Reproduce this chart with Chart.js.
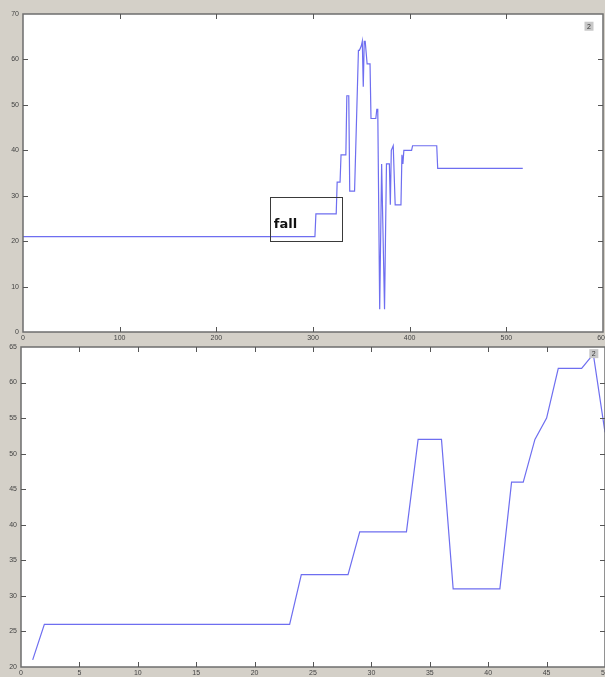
<!DOCTYPE html>
<html>
<head>
<meta charset="utf-8">
<script src="https://cdn.jsdelivr.net/npm/chart.js@4.4.1/dist/chart.umd.min.js"></script>
<style>
  html, body { margin: 0; padding: 0; background: #d4d0c8; }
  body { width: 605px; height: 677px; position: relative; overflow: hidden; }
  #top-wrap { position: absolute; left: 0; top: 0; width: 605px; height: 345px; }
  #bottom-wrap { position: absolute; left: 0; top: 337px; width: 605px; height: 340px; }
</style>
</head>
<body>
<div id="top-wrap"><canvas id="top-chart"></canvas></div>
<div id="bottom-wrap"><canvas id="bottom-chart"></canvas></div>
<script>
// top panel: whole recording (sample index, value)
const topX = [0, 302, 303, 324, 325, 328, 329, 334, 335, 337, 338, 343, 347, 348, 350, 351, 352, 353, 354, 356, 359, 360, 365, 366, 367,
  369, 371, 374, 376, 379, 380, 381, 383, 385, 391, 392, 393, 394, 402, 403, 428, 429, 517];
const topY = [21, 21, 26, 26, 33, 33, 39, 39, 52, 52, 31, 31, 62, 62, 63, 64, 54, 64, 64, 59, 59, 47, 47, 49, 49,
  5, 37, 5, 37, 37, 28, 40, 41, 28, 28, 39, 37, 40, 40, 41, 41, 36, 36];

// bottom panel: first 50 distinct steps
const bottomX = [1, 2, 3, 4, 5, 6, 7, 8, 9, 10, 11, 12, 13, 14, 15, 16, 17, 18, 19, 20, 21, 22, 23, 24, 25,
  26, 27, 28, 29, 30, 31, 32, 33, 34, 35, 36, 37, 38, 39, 40, 41, 42, 43, 44, 45, 46, 47, 48, 49, 50];
const bottomY = [21, 26, 26, 26, 26, 26, 26, 26, 26, 26, 26, 26, 26, 26, 26, 26, 26, 26, 26, 26, 26, 26, 26, 33, 33,
  33, 33, 33, 39, 39, 39, 39, 39, 52, 52, 52, 31, 31, 31, 31, 31, 46, 46, 52, 55, 62, 62, 62, 64, 53];

const topXRange = [0, 600, 100];
const topYRange = [0, 70, 10];
const bottomXRange = [0, 50, 5];
const bottomYRange = [20, 65, 5];

// annotations (data coordinates)
const fallBox = [256, 29.7, 331, 20];
const fallLabel = { text: 'fall', x: 259.5, y: 22.9 };
const topTip = { text: '2', x: 585, y: 67.2 };
const bottomTip = { text: '2', x: 49, y: 64 };

const lineColor = 'rgb(110,110,240)';
const tickFont = { family: 'Liberation Sans', size: 7 };

const framePlugin = {
  id: 'frame',
  beforeDraw(chart) {
    const a = chart.chartArea, ctx = chart.ctx;
    ctx.save();
    ctx.fillStyle = '#ffffff';
    ctx.fillRect(a.left, a.top, a.right - a.left, a.bottom - a.top);
    ctx.restore();
  },
  afterDraw(chart, args, opts) {
    const a = chart.chartArea, ctx = chart.ctx;
    const xs = chart.scales.x, ys = chart.scales.y;
    ctx.save();
    ctx.strokeStyle = '#6e6e6e';
    ctx.lineWidth = 1.5;
    ctx.strokeRect(a.left, a.top, a.right - a.left, a.bottom - a.top);
    ctx.lineWidth = 1;
    ctx.strokeStyle = '#555';
    ctx.beginPath();
    xs.ticks.forEach(t => {
      const px = Math.round(xs.getPixelForValue(t.value)) + 0.5;
      if (px <= a.left + 1 || px >= a.right - 1) return;
      ctx.moveTo(px, a.bottom); ctx.lineTo(px, a.bottom - 5);
      ctx.moveTo(px, a.top); ctx.lineTo(px, a.top + 5);
    });
    ys.ticks.forEach(t => {
      const py = Math.round(ys.getPixelForValue(t.value)) + 0.5;
      if (py <= a.top + 1 || py >= a.bottom - 1) return;
      ctx.moveTo(a.left, py); ctx.lineTo(a.left + 5, py);
      ctx.moveTo(a.right, py); ctx.lineTo(a.right - 5, py);
    });
    ctx.stroke();

    if (opts.box) {
      const b = opts.box;
      const x1 = xs.getPixelForValue(b[0]), y1 = ys.getPixelForValue(b[1]);
      const x2 = xs.getPixelForValue(b[2]), y2 = ys.getPixelForValue(b[3]);
      ctx.strokeStyle = '#3a3a3a';
      ctx.lineWidth = 1;
      ctx.strokeRect(Math.round(x1) + 0.5, Math.round(y1) + 0.5, Math.round(x2 - x1), Math.round(y2 - y1));
    }
    if (opts.label) {
      const l = opts.label;
      ctx.fillStyle = '#111';
      ctx.font = 'bold 13px "DejaVu Sans"';
      ctx.textBaseline = 'alphabetic';
      ctx.fillText(l.text, xs.getPixelForValue(l.x), ys.getPixelForValue(l.y));
    }
    if (opts.tip) {
      const t = opts.tip;
      const px = xs.getPixelForValue(t.x), py = ys.getPixelForValue(t.y);
      ctx.fillStyle = '#c8c8c8';
      ctx.fillRect(px - 4, py - 5, 9, 9);
      ctx.fillStyle = '#333';
      ctx.font = '7px "Liberation Sans"';
      ctx.textAlign = 'center';
      ctx.textBaseline = 'middle';
      ctx.fillText(t.text, px + 0.5, py);
    }
    ctx.restore();
  }
};

function makeChart(id, xs, ys, xr, yr, dims, extra) {
  const pts = xs.map((x, i) => ({ x: x, y: ys[i] }));
  return new Chart(document.getElementById(id).getContext('2d'), {
    type: 'scatter',
    data: {
      datasets: [{
        data: pts,
        showLine: true,
        borderColor: lineColor,
        borderWidth: 1.2,
        pointRadius: 0,
        fill: false,
        tension: 0
      }]
    },
    options: {
      responsive: true,
      maintainAspectRatio: false,
      animation: false,
      events: [],
      layout: { padding: dims.padding },
      plugins: { legend: { display: false }, tooltip: { enabled: false }, frame: extra },
      scales: {
        x: {
          type: 'linear', min: xr[0], max: xr[1],
          grid: { display: false, drawTicks: false }, border: { display: false },
          ticks: { stepSize: xr[2], font: tickFont, color: '#444', padding: 2, maxRotation: 0, autoSkip: false },
          afterFit(s) { s.height = dims.xh; s.paddingLeft = 0; s.paddingRight = 0; }
        },
        y: {
          type: 'linear', min: yr[0], max: yr[1],
          grid: { display: false, drawTicks: false }, border: { display: false },
          ticks: { stepSize: yr[2], font: tickFont, color: '#444', padding: 4 },
          afterFit(s) { s.width = dims.yw; s.paddingTop = 0; s.paddingBottom = 0; }
        }
      }
    },
    plugins: [framePlugin]
  });
}

makeChart('top-chart', topX, topY, topXRange, topYRange,
  { padding: { top: 14, right: 2, left: 0, bottom: 0 }, xh: 13, yw: 23 },
  { box: fallBox, label: fallLabel, tip: topTip });

makeChart('bottom-chart', bottomX, bottomY, bottomXRange, bottomYRange,
  { padding: { top: 10, right: 0, left: 0, bottom: 0 }, xh: 10, yw: 21 },
  { tip: bottomTip });
</script>
</body>
</html>
